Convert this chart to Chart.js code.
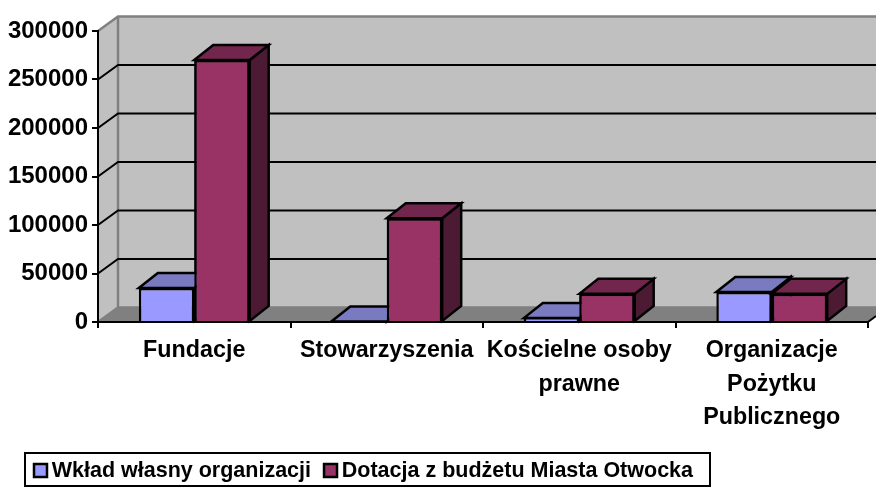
<!DOCTYPE html>
<html><head><meta charset="utf-8">
<style>html,body{margin:0;padding:0;background:#fff}canvas{display:block}</style>
<script src="https://cdn.jsdelivr.net/npm/chart.js@4"></script></head>
<body><div style="width:876px;height:487px"><canvas id="c" width="876" height="487"></canvas></div>
<script>
const categories = ['Fundacje','Stowarzyszenia',['Kościelne osoby','prawne'],['Organizacje','Pożytku','Publicznego']];
const wklad = [35000,500,4000,31000];
const dotacja = [270000,107000,29000,29000];
const yTicks = {min:0,max:300000,step:50000};
const DX = 20, DY = 14.5, BDX = 19, BDY = 15;
function shade(ctx, pts, fill){
  ctx.beginPath();
  pts.forEach((p,i)=> i?ctx.lineTo(p[0],p[1]):ctx.moveTo(p[0],p[1]));
  ctx.closePath();
  ctx.fillStyle = fill; ctx.fill();
  ctx.lineWidth = 2.5; ctx.strokeStyle = '#000'; ctx.lineJoin='miter'; ctx.stroke();
}
const box3d = {
  id:'box3d',
  afterLayout(chart){
    const lg=chart.legend;
    lg.left+=13; lg.top+=7;
    lg.legendHitBoxes.forEach(h=>{h.left+=13;h.top+=7;});
  },
  beforeDraw(chart){
    const {ctx,chartArea:a,scales:{y}} = chart;
    const l=a.left,r=a.right,b=a.bottom;
    ctx.save();
    const wr = 876;
    const top = y.getPixelForValue(yTicks.max)-DY;
    ctx.fillStyle='#c0c0c0'; ctx.fillRect(l+DX,top,wr-l-DX,b-DY-top);
    ctx.beginPath();ctx.moveTo(l,top+DY);ctx.lineTo(l+DX,top);ctx.lineTo(l+DX,b-DY);ctx.lineTo(l,b);ctx.closePath();ctx.fill();
    ctx.fillStyle='#808080';
    ctx.beginPath();ctx.moveTo(l,b);ctx.lineTo(l+DX,b-DY);ctx.lineTo(wr,b-DY);ctx.lineTo(wr,b-6);ctx.lineTo(r,b);ctx.closePath();ctx.fill();
    ctx.strokeStyle='#808080';ctx.lineWidth=2.5;
    ctx.beginPath();ctx.moveTo(l,top+DY);ctx.lineTo(l+DX,top);ctx.lineTo(wr,top);
    ctx.moveTo(l+DX,top);ctx.lineTo(l+DX,b-DY);ctx.lineTo(l,b);
    ctx.moveTo(l+DX,b-DY);ctx.lineTo(wr,b-DY);ctx.stroke();
    ctx.strokeStyle='#000';ctx.lineWidth=2;ctx.beginPath();
    y.ticks.forEach(tk=>{
      if(tk.value===yTicks.min||tk.value===yTicks.max) return;
      const py=y.getPixelForValue(tk.value);
      ctx.moveTo(l,py);ctx.lineTo(l+DX,py-DY);ctx.lineTo(wr,py-DY);
    });
    ctx.moveTo(r,b);ctx.lineTo(wr,b-6);
    ctx.stroke();
    ctx.restore();
  },
  afterDatasetsDraw(chart){
    const {ctx}=chart;
    ctx.save();
    chart.data.datasets.forEach((ds,i)=>{
      chart.getDatasetMeta(i).data.forEach(el=>{
        const p=el.getProps(['x','y','base','width'],true);
        const L=p.x-p.width/2,R=p.x+p.width/2,T=p.y,B=p.base;
        if(i>0) el.draw(ctx);
        shade(ctx,[[R,T],[R+BDX,T-BDY],[R+BDX,B-BDY],[R,B]],ds.sideColor);
        shade(ctx,[[L,T],[L+BDX,T-BDY],[R+BDX,T-BDY],[R,T]],ds.topColor);
      });
    });
    ctx.restore();
  },
  afterDraw(chart){
    const {ctx,legend:lg}=chart;
    ctx.save();ctx.strokeStyle='#000';ctx.lineWidth=2;
    ctx.strokeRect(25,453,685,33);
    lg.legendHitBoxes.forEach((h,i)=>{
      ctx.fillStyle=chart.data.datasets[i].backgroundColor;
      ctx.lineWidth=2.5;
      const bx=h.left+9, by=464;
      ctx.fillRect(bx,by,13,13);ctx.strokeRect(bx,by,13,13);
    });
    ctx.restore();
  }
};
const family='"Liberation Sans",Arial,sans-serif';
new Chart(document.getElementById('c'),{
  type:'bar',
  data:{labels:categories,datasets:[
    {label:'Wkład własny organizacji',data:wklad,backgroundColor:'#9999ff',borderColor:'#000',borderWidth:2.5,sideColor:'#4d4d80',topColor:'#7a7ac0'},
    {label:'Dotacja z budżetu Miasta Otwocka',data:dotacja,backgroundColor:'#993366',borderColor:'#000',borderWidth:2.5,sideColor:'#4d1a33',topColor:'#73264d'}
  ]},
  plugins:[box3d],
  options:{
    responsive:false,animation:false,
    layout:{padding:{left:8,right:8,top:31,bottom:2}},
    datasets:{bar:{categoryPercentage:0.576,barPercentage:1}},
    plugins:{
      tooltip:{enabled:false},
      legend:{position:'bottom',align:'start',labels:{
        font:{family,weight:'bold',size:21.5},color:'#000',boxWidth:16,boxHeight:14,padding:4,
        generateLabels(chart){return chart.data.datasets.map((d,i)=>({text:d.label,datasetIndex:i,fillStyle:'rgba(0,0,0,0)',strokeStyle:'rgba(0,0,0,0)',lineWidth:0,fontColor:'#000'}));}
      }}
    },
    scales:{
      x:{grid:{drawOnChartArea:false,color:'#000',lineWidth:2,tickLength:6,offset:true},border:{color:'#000',width:2},
         afterFit(s){s.height=127.5;},
         ticks:{font:{family,weight:'bold',size:23.3,lineHeight:1.42},color:'#000',maxRotation:0,autoSkip:false,padding:6.5}},
      y:{min:yTicks.min,max:yTicks.max,grid:{drawOnChartArea:false,color:'#000',lineWidth:2,tickLength:6},border:{color:'#000',width:2},
         afterFit(s){s.width=90;},
         ticks:{font:{family,weight:'bold',size:24},color:'#000',stepSize:yTicks.step,padding:4,callback:v=>String(v)}}
    }
  }
});
</script></body></html>
